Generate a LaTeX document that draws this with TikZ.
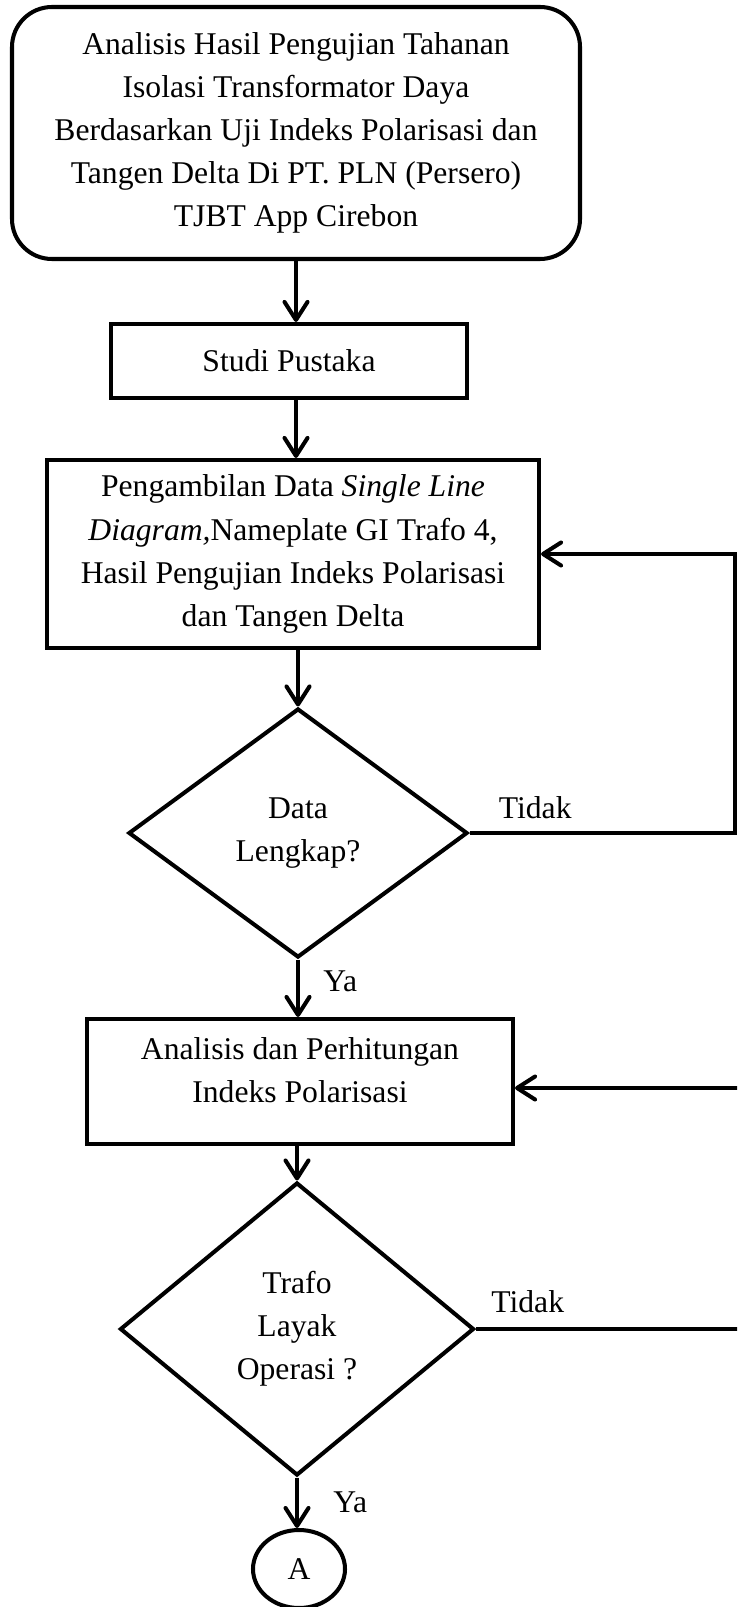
\documentclass[tikz,border=0pt]{standalone}
\usepackage{fontspec}
\setmainfont{Liberation Serif}
\usepackage{tikz}
\usetikzlibrary{shapes.geometric}
\usetikzlibrary{positioning}
\usetikzlibrary{calc,arrows.meta}

\tikzset{
  garis/.style={line width=2.3pt},
  panah/.style={garis,-{Straight Barb[length=3.6mm,width=4.6mm,round]}},
  teks/.style={font=\fontsize{18}{24.5}\selectfont, align=center},
  terminal/.style={garis, teks, draw, rounded corners=0.8cm, inner sep=0pt},
  proses/.style={garis, teks, draw, rectangle, inner sep=0pt},
  keputusan/.style={garis, teks, draw, diamond, inner sep=0pt},
  konektor/.style={garis, teks, draw, ellipse, inner sep=0pt},
  lbl/.style={teks, inner sep=0pt}
}

\begin{document}
\begin{tikzpicture}
 \useasboundingbox (0,0) rectangle (14.74,-32.14);
 \clip (0,0) rectangle (14.74,-32.14);
 \coordinate (kanan1) at (14.7,0);
 \coordinate (kanan2) at (15.0,0);

    % draw boxes
    \node[terminal, minimum width=11.36cm, minimum height=5.04cm] (start) at (5.92,-2.66)
      {Analisis Hasil Pengujian Tahanan\\Isolasi Transformator Daya\\Berdasarkan Uji Indeks Polarisasi dan\\Tangen Delta Di PT. PLN (Persero)\\TJBT App Cirebon};
    \node[proses, minimum width=7.12cm, minimum height=1.48cm] (studi) at (5.78,-7.22) {Studi Pustaka};
    \node[proses, minimum width=9.84cm, minimum height=3.76cm] (ambil) at (5.86,-11.08)
      {Pengambilan Data \textit{Single Line}\\\textit{Diagram,}Nameplate GI Trafo 4,\\Hasil Pengujian Indeks Polarisasi\\dan Tangen Delta};
    \node[keputusan, minimum width=6.78cm, minimum height=4.98cm] (cek1) at (5.96,-16.66) {Data\\Lengkap?};
    \node[proses, minimum width=8.52cm, minimum height=2.5cm, text depth=0.45cm] (anl) at (6.0,-21.63)
      {Analisis dan Perhitungan\\Indeks Polarisasi};
    \node[keputusan, minimum width=7.08cm, minimum height=5.86cm] (cek2) at (5.94,-26.58) {Trafo\\Layak\\Operasi ?};
    \node[konektor, minimum width=1.84cm, minimum height=1.56cm] (conA) at (5.98,-31.38) {A};

    % draw arrows
    \draw[panah] (start.south) -- (start.south |- studi.north);
    \draw[panah] (studi.south -| start.south) -- (start.south |- ambil.north);
    \draw[panah] (ambil.south -| cek1.north) -- (cek1.north);
    \draw[panah] (cek1.south) -- (cek1.south |- anl.north);
    \draw[panah] (anl.south -| cek2.north) -- (cek2.north);
    \draw[panah] (cek2.south) -- (cek2.south |- conA.north);

    % draw loops
    \draw[panah] (cek1.east) -- (cek1.east -| kanan1) |- (ambil.east);
    \draw[panah] (cek2.east) -- (cek2.east -| kanan2) |- ([yshift=-0.13cm]anl.east);

    % labels
    \node[lbl, anchor=south west] (tidak1) at ([xshift=0.58cm,yshift=0.28cm]cek1.east) {Tidak};
    \node[lbl, anchor=south west] (tidak2) at ([xshift=0.3cm,yshift=0.32cm]cek2.east) {Tidak};
    \node[lbl, anchor=west] (ya1) at ([xshift=0.5cm,yshift=-0.44cm]cek1.south) {Ya};
    \node[lbl, anchor=west] (ya2) at ([xshift=0.72cm,yshift=-0.5cm]cek2.south) {Ya};
\end{tikzpicture}
\end{document}
